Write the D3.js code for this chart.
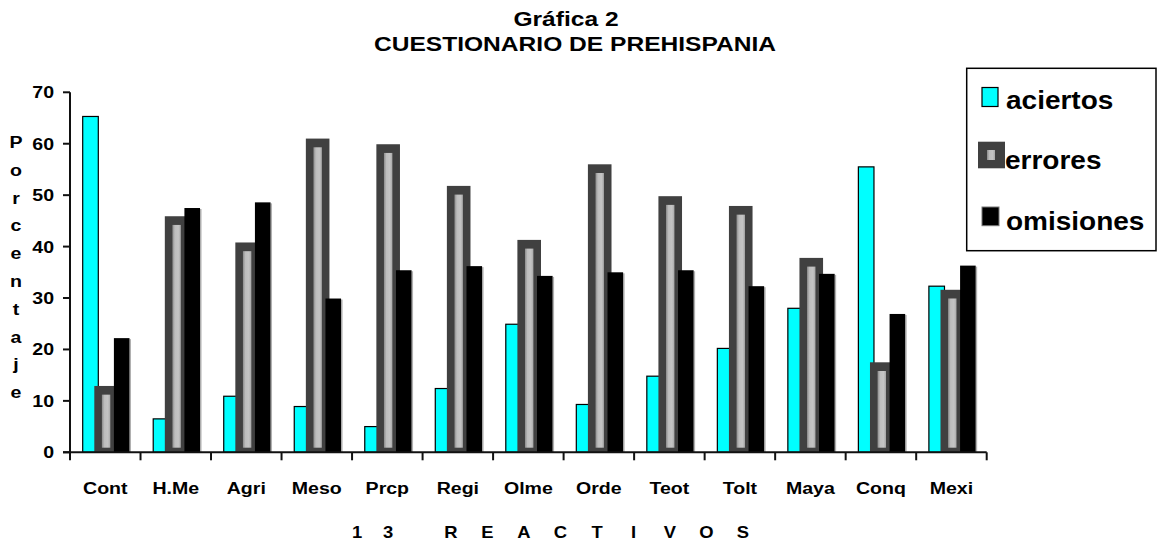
<!DOCTYPE html>
<html>
<head>
<meta charset="utf-8">
<script src="https://cdn.jsdelivr.net/npm/d3@7"></script>
<style>
  body { margin: 0; background: #fff; }
  text { font-family: Arial, "Liberation Sans", sans-serif; font-weight: bold; fill: #000; }
</style>
</head>
<body>
<div id="chart"></div>
<script>
// chart data
const categories = ["Cont", "H.Me", "Agri", "Meso", "Prcp", "Regi", "Olme", "Orde", "Teot", "Tolt", "Maya", "Conq", "Mexi"];
const aciertos  = [65.3, 6.5, 10.9, 8.9, 5.0, 12.4, 24.9, 9.3, 14.8, 20.2, 28.0, 55.5, 32.3];
const errores   = [12.9, 45.9, 40.8, 61.0, 59.9, 51.8, 41.3, 56.0, 49.8, 47.9, 37.8, 17.5, 31.6];
const omisiones = [22.2, 47.5, 48.6, 29.9, 35.4, 36.2, 34.3, 35.0, 35.4, 32.3, 34.7, 26.9, 36.3];
const seriesNames = ["aciertos", "errores", "omisiones"];
const yTicks = [0, 10, 20, 30, 40, 50, 60, 70];
const yTitle = "Porcentaje";
const xTitle = ["1", "3", "R", "E", "A", "C", "T", "I", "V", "O", "S"];

const W = 1158, H = 543;

const svg = d3.select("#chart").append("svg")
  .attr("width", W)
  .attr("height", H);

const defs = svg.append("defs");
const grad = defs.append("linearGradient").attr("id", "stripe");
grad.append("stop").attr("offset", "0%").attr("stop-color", "#8c8c8c");
grad.append("stop").attr("offset", "30%").attr("stop-color", "#bdbdbd");
grad.append("stop").attr("offset", "70%").attr("stop-color", "#c4c4c4");
grad.append("stop").attr("offset", "100%").attr("stop-color", "#a8a8a8");

const y = d3.scaleLinear().domain([0, 70]).range([452.3, 92.3]);
const x0 = d3.scaleBand().domain(categories).range([70, 986.7]);
const x1 = d3.scaleBand().domain(seriesNames).range([12.7, 12.7 + 46.8]);
const bw = x1.bandwidth();

// text in the original is a little wider than plain Arial
function label(g, str, x, yy, size, anchor, sx) {
  return g.append("text")
    .attr("transform", `translate(${x},${yy}) scale(${sx || 1.15},1)`)
    .attr("text-anchor", anchor || "middle")
    .style("font-size", size + "px")
    .text(str);
}

// titles
label(svg, "Gráfica 2", 566, 26, 21, "middle", 1.17);
label(svg, "CUESTIONARIO DE PREHISPANIA", 575, 51, 21, "middle", 1.17);

// bars
const rows = categories.map((c, i) => ({ c, a: aciertos[i], e: errores[i], o: omisiones[i] }));
const grp = svg.append("g").selectAll("g")
  .data(rows)
  .enter().append("g")
  .attr("transform", d => `translate(${x0(d.c)},0)`);

grp.append("rect")
  .attr("x", x1("aciertos"))
  .attr("y", d => y(d.a))
  .attr("width", bw)
  .attr("height", d => y(0) - y(d.a))
  .attr("fill", "#00ffff")
  .attr("stroke", "#000")
  .attr("stroke-width", 1.2);

grp.append("rect")
  .attr("x", x1("errores") - 4)
  .attr("y", d => y(d.e))
  .attr("width", bw + 8)
  .attr("height", d => y(0) - y(d.e))
  .attr("fill", "#404040");

grp.append("rect")
  .attr("x", x1("errores") + bw / 2 - 4.2)
  .attr("y", d => y(d.e) + 8.7)
  .attr("width", 8.4)
  .attr("height", d => Math.max(0, y(0) - y(d.e) - 13.3))
  .attr("fill", "url(#stripe)");

grp.append("rect")
  .attr("x", x1("omisiones") + bw)
  .attr("y", d => y(d.o) + 1)
  .attr("width", 1.5)
  .attr("height", d => y(0) - y(d.o) - 1)
  .attr("fill", "#b0b0b0");

grp.append("rect")
  .attr("x", x1("omisiones"))
  .attr("y", d => y(d.o))
  .attr("width", bw)
  .attr("height", d => y(0) - y(d.o))
  .attr("fill", "#000");

// axes
const axisG = svg.append("g");
axisG.append("line")
  .attr("x1", 70).attr("x2", 70)
  .attr("y1", y(70)).attr("y2", y(0))
  .attr("stroke", "#111").attr("stroke-width", 2);
axisG.append("line")
  .attr("x1", 63).attr("x2", 986.7)
  .attr("y1", y(0)).attr("y2", y(0))
  .attr("stroke", "#111").attr("stroke-width", 2);

axisG.selectAll(".yt")
  .data(yTicks)
  .enter().append("line")
  .attr("x1", 63).attr("x2", 70)
  .attr("y1", d => y(d)).attr("y2", d => y(d))
  .attr("stroke", "#111").attr("stroke-width", 2);

yTicks.forEach(t => label(axisG, String(t), 54, y(t) + 6, 17, "end"));

const bounds = categories.map(c => x0(c)).concat([x0.range()[1]]);
axisG.selectAll(".xt")
  .data(bounds)
  .enter().append("line")
  .attr("x1", d => d).attr("x2", d => d)
  .attr("y1", y(0)).attr("y2", y(0) + 8)
  .attr("stroke", "#111").attr("stroke-width", 2);

categories.forEach(c => label(axisG, c, x0(c) + x0.bandwidth() / 2, 494, 17));

// y title, one letter per line
yTitle.split("").forEach((ch, i) => label(svg, ch, 16, 148 + i * 27.8, 17));

// x title
const xPos = [357, 388];
xTitle.forEach((ch, i) => {
  const px = i < 2 ? xPos[i] : 451 + (i - 2) * 36.5;
  label(svg, ch, px, 538, 16);
});

// legend
const lg = svg.append("g");
lg.append("rect")
  .attr("x", 966.7).attr("y", 68.3)
  .attr("width", 189.3).attr("height", 182.4)
  .attr("fill", "#fff")
  .attr("stroke", "#000").attr("stroke-width", 1.5);

lg.append("rect")
  .attr("x", 982).attr("y", 87.5).attr("width", 16).attr("height", 19)
  .attr("fill", "#00ffff").attr("stroke", "#000").attr("stroke-width", 1.2);
label(lg, seriesNames[0], 1006, 109, 25, "start", 1.12);

lg.append("rect")
  .attr("x", 978).attr("y", 141.7).attr("width", 27).attr("height", 26.6)
  .attr("fill", "#404040");
lg.append("rect")
  .attr("x", 987).attr("y", 150).attr("width", 8).attr("height", 10)
  .attr("fill", "url(#stripe)");
label(lg, seriesNames[1], 1005, 169, 25, "start", 1.12);

lg.append("rect")
  .attr("x", 982).attr("y", 207).attr("width", 17).attr("height", 18.7)
  .attr("fill", "#000").attr("stroke", "#777").attr("stroke-width", 1);
label(lg, seriesNames[2], 1006, 230, 25, "start", 1.12);
</script>
</body>
</html>
